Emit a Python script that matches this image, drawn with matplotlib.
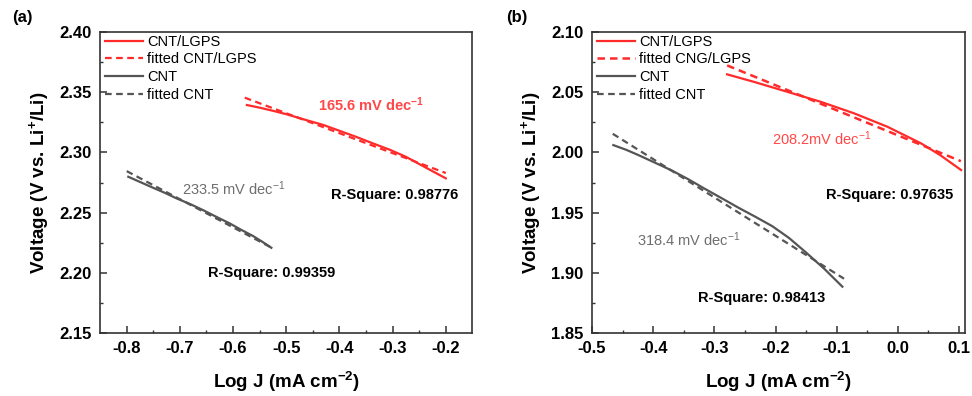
import numpy as np
import matplotlib
matplotlib.use("Agg")
import matplotlib.pyplot as plt

plt.rcParams["font.family"] = ["Liberation Sans", "DejaVu Sans"]
plt.rcParams["mathtext.fontset"] = "custom"
plt.rcParams["mathtext.rm"] = "Liberation Sans"
plt.rcParams["mathtext.bf"] = "Liberation Sans:bold"
plt.rcParams["mathtext.default"] = "regular"
plt.rcParams["axes.unicode_minus"] = False

RED = "#ff2a2a"
GRAY = "#555555"

# Tafel data, panel (a)
a_lgps_x = [-0.574, -0.55, -0.525, -0.5, -0.4625, -0.43, -0.40, -0.37, -0.3375, -0.305, -0.275, -0.24, -0.2]
a_lgps_y = [2.3394, 2.3372, 2.3346, 2.3318, 2.3269, 2.3228, 2.3180, 2.3132, 2.3076, 2.3022, 2.2964, 2.2880, 2.2785]
a_cnt_x = [-0.797, -0.775, -0.75, -0.728, -0.706, -0.68, -0.656, -0.63, -0.606, -0.585, -0.5625, -0.545, -0.528]
a_cnt_y = [2.2798, 2.2755, 2.2706, 2.2664, 2.2618, 2.2570, 2.2520, 2.2462, 2.2410, 2.2358, 2.2306, 2.2258, 2.2208]

# Tafel data, panel (b)
b_lgps_x = [-0.2792, -0.2356, -0.1808, -0.1262, -0.0716, -0.0169, 0.0377, 0.07, 0.1033]
b_lgps_y = [2.0649, 2.0587, 2.0504, 2.0421, 2.0325, 2.0213, 2.0076, 1.9975, 1.9854]
b_cnt_x = [-0.465, -0.444, -0.424, -0.397, -0.3694, -0.342, -0.3148, -0.288, -0.2602, -0.233,
           -0.2054, -0.178, -0.1508, -0.12, -0.0907]
b_cnt_y = [2.0061, 2.0022, 1.9978, 1.9915, 1.9850, 1.9776, 1.9696, 1.9620, 1.9540, 1.9466,
           1.9388, 1.9290, 1.9172, 1.9032, 1.8885]

# Linear fits: Tafel slope (mV/dec), x range and starting voltage
a_slopes = [165.6, 233.5]
a_fit_x = [(-0.578, -0.2), (-0.8, -0.525)]
a_fit_y0 = [2.3455, 2.2845]
a_rsq = ["0.98776", "0.99359"]

b_slopes = [208.2, 318.4]
b_fit_x = [(-0.279, 0.103), (-0.466, -0.088)]
b_fit_y0 = [2.0723, 2.0155]
b_rsq = ["0.97635", "0.98413"]


def fit_line(x_range, y0, slope):
    x0, x1 = x_range
    return [x0, x1], [y0, y0 - slope / 1000.0 * (x1 - x0)]


def style_axes(ax, xlim, ylim, xticks, yticks):
    ax.set_xlim(*xlim)
    ax.set_ylim(*ylim)
    ax.set_xticks(xticks)
    ax.set_yticks(yticks)
    ax.set_xticks([(xticks[i] + xticks[i + 1]) / 2 for i in range(len(xticks) - 1)], minor=True)
    ax.set_yticks([(yticks[i] + yticks[i + 1]) / 2 for i in range(len(yticks) - 1)], minor=True)
    ax.tick_params(which="major", direction="in", length=5, width=1.1, color="#333333",
                   labelsize=12, pad=6, top=False, right=False)
    ax.tick_params(which="minor", direction="in", length=2.5, width=1.0, color="#333333",
                   top=False, right=False)
    for lab in ax.get_xticklabels() + ax.get_yticklabels():
        lab.set_fontweight("bold")
    for sp in ax.spines.values():
        sp.set_linewidth(1.2)
        sp.set_color("#333333")
    ax.set_xlabel("Log J (mA cm$^{\\mathbf{-2}}$)", fontsize=13.5, fontweight="bold", labelpad=10)
    ax.set_ylabel("Voltage (V vs. Li$^{\\mathbf{+}}$/Li)", fontsize=13.5, fontweight="bold", labelpad=6)


fig = plt.figure(figsize=(9.72, 3.96), dpi=100)
ax1 = fig.add_axes([0.103, 0.159, 0.383, 0.760])
ax2 = fig.add_axes([0.609, 0.159, 0.384, 0.760])

# Panel (a)
ax1.plot(a_lgps_x, a_lgps_y, color=RED, lw=1.6, label="CNT/LGPS")
fx, fy = fit_line(a_fit_x[0], a_fit_y0[0], a_slopes[0])
ax1.plot(fx, fy, color=RED, lw=1.6, ls=(0, (3, 2)), label="fitted CNT/LGPS")
ax1.plot(a_cnt_x, a_cnt_y, color=GRAY, lw=1.6, label="CNT")
fx, fy = fit_line(a_fit_x[1], a_fit_y0[1], a_slopes[1])
ax1.plot(fx, fy, color=GRAY, lw=1.6, ls=(0, (3, 2)), label="fitted CNT")
style_axes(ax1, (-0.85, -0.15), (2.15, 2.40),
           [-0.8, -0.7, -0.6, -0.5, -0.4, -0.3, -0.2], [2.15, 2.20, 2.25, 2.30, 2.35, 2.40])
ax1.text(-0.441, 2.3394, f"{a_slopes[0]} mV dec$^{{\\mathbf{{-1}}}}$", color="#ff4848",
         fontsize=10.5, fontweight="bold", va="center")
ax1.text(-0.696, 2.2696, f"{a_slopes[1]} mV dec$^{{-1}}$", color="#6e6e6e", fontsize=10.5, va="center")
ax1.text(-0.415, 2.2646, f"R-Square: {a_rsq[0]}", fontsize=10.5, fontweight="bold", va="center")
ax1.text(-0.647, 2.1996, f"R-Square: {a_rsq[1]}", fontsize=10.5, fontweight="bold", va="center")

# Panel (b)
ax2.plot(b_lgps_x, b_lgps_y, color=RED, lw=1.6, label="CNT/LGPS")
fx, fy = fit_line(b_fit_x[0], b_fit_y0[0], b_slopes[0])
ax2.plot(fx, fy, color=RED, lw=1.8, ls=(0, (3, 2)), label="fitted CNG/LGPS")
ax2.plot(b_cnt_x, b_cnt_y, color=GRAY, lw=1.6, label="CNT")
fx, fy = fit_line(b_fit_x[1], b_fit_y0[1], b_slopes[1])
ax2.plot(fx, fy, color=GRAY, lw=1.6, ls=(0, (3, 2)), label="fitted CNT")
style_axes(ax2, (-0.5, 0.11), (1.85, 2.10),
           [-0.5, -0.4, -0.3, -0.2, -0.1, 0.0, 0.1], [1.85, 1.90, 1.95, 2.00, 2.05, 2.10])
ax2.text(-0.2054, 2.0117, f"{b_slopes[0]}mV dec$^{{-1}}$", color="#ff4848", fontsize=10.5, va="center")
ax2.text(-0.4267, 1.9278, f"{b_slopes[1]} mV dec$^{{-1}}$", color="#6e6e6e", fontsize=10.5, va="center")
ax2.text(-0.118, 1.9646, f"R-Square: {b_rsq[0]}", fontsize=10.5, fontweight="bold", va="center")
ax2.text(-0.326, 1.8788, f"R-Square: {b_rsq[1]}", fontsize=10.5, fontweight="bold", va="center")

for ax in (ax1, ax2):
    ax.legend(loc="upper left", bbox_to_anchor=(-0.01, 1.02), frameon=False, fontsize=10.5,
              handlelength=2.6, handletextpad=0.3, labelspacing=0.25, borderaxespad=0.2)

fig.text(0.012, 0.955, "(a)", fontsize=12, fontweight="bold", va="center")
fig.text(0.521, 0.955, "(b)", fontsize=12, fontweight="bold", va="center")

fig.savefig("out.png", dpi=100)
